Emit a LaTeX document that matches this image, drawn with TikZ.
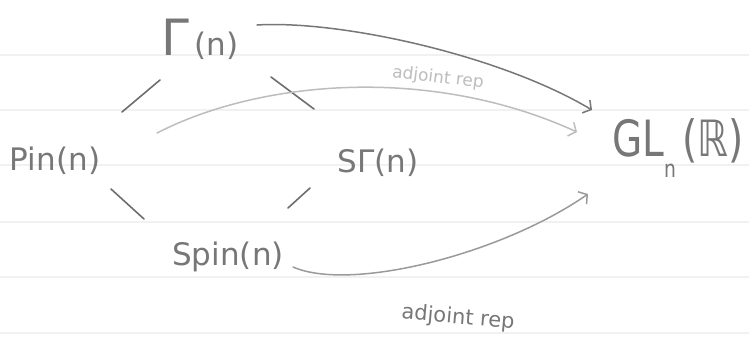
\documentclass[tikz,border=0pt]{standalone}
\usepackage{fontspec}
\setmainfont{DejaVu Sans}
\usepackage{graphicx}
\usetikzlibrary{arrows.meta,calc}
\definecolor{ink}{HTML}{777777}
\definecolor{inkdark}{HTML}{6E6E6E}
\definecolor{inklight}{HTML}{BDBDBD}
\definecolor{inkmid}{HTML}{9A9A9A}
\definecolor{rule}{HTML}{F1F1F1}
\tikzset{
  obj/.style={anchor=base, inner sep=0pt, text=ink, font=\fontsize{31}{31}\selectfont},
  stroke/.style={draw=inkdark, line width=1.6pt, line cap=round},
  mapto/.style={line width=1.5pt, line cap=round, -{Straight Barb[length=6pt,width=15pt]}},
  lbl/.style={inner sep=0pt, font=\fontsize{17}{17}\selectfont},
  ruleline/.style={draw=rule, line width=2.5pt}
}
\begin{document}
\begin{tikzpicture}[x=1pt,y=-1pt]
\useasboundingbox (0,0) rectangle (749,343);
\fill[white] (0,0) rectangle (749,343);
% ruled paper
\foreach \yy in {55,110,165,222,277,333} {\draw[ruleline] (0,\yy) -- (749,\yy);}
% objects
\node[obj] (G) at (200,55) {{\fontsize{50}{50}\selectfont Γ}\,(n)};
\node[obj] (P) at (55,170) {Pin(n)};
\node[obj] (SG) at (378,172) {SΓ(n)};
\node[obj] (S) at (228,265) {Spin(n)};
\node[obj, font=\fontsize{50}{50}\selectfont] (GL) at (678,156)
  {\scalebox{0.78}[1]{GL\raisebox{-0.42em}{\fontsize{24}{24}\selectfont n}\,(ℝ)}};
% diamond strokes
\draw[stroke] ($(G.base)+(-40,25)$) -- ($(P.base)+(67,-58)$);
\draw[stroke] ($(G.base)+(71,22)$) -- ($(SG.base)+(-64,-63)$);
\draw[stroke] ($(P.base)+(56,19)$) -- ($(S.base)+(-84,-46)$);
\draw[stroke] ($(SG.base)+(-68,16)$) -- ($(S.base)+(60,-57)$);
% maps to GL_n(R)
\draw[mapto, draw=ink] ($(G.base)+(57,-30)$) .. controls +(83,-5) and +(-92,-55) .. ($(GL.base)+(-86,-46)$);
\draw[mapto, draw=inklight] ($(P.base)+(102,-37)$) .. controls +(103,-53) and +(-147,-67) .. ($(GL.base)+(-101,-24)$);
\draw[mapto, draw=inkmid] ($(S.base)+(65,2)$) .. controls +(57,25) and +(-88,61) .. ($(GL.base)+(-90,38)$);
% labels
\node[lbl, text=inklight, rotate=-7] (l1) at (438,78) {adjoint rep};
\node[lbl, text=ink, rotate=-5, font=\fontsize{21}{21}\selectfont] (l2) at (458,318) {adjoint rep};
\end{tikzpicture}
\end{document}
